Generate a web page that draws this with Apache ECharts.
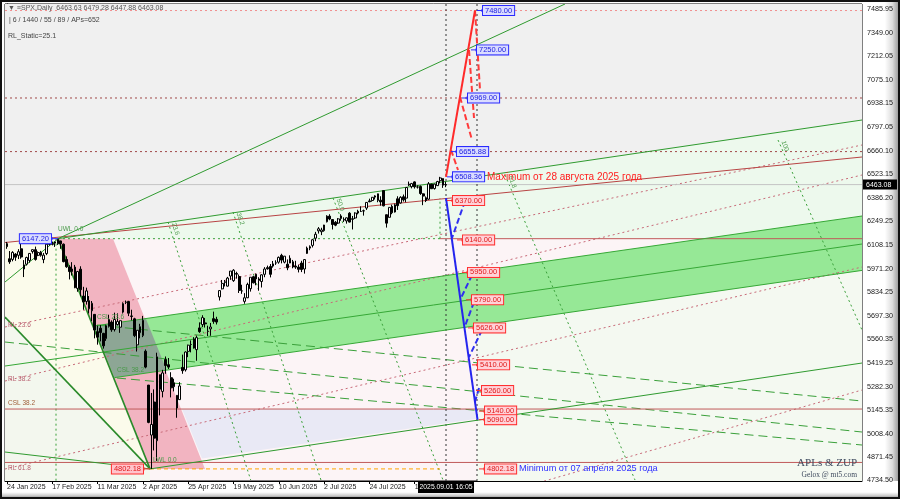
<!DOCTYPE html>
<html>
<head>
<meta charset="utf-8">
<script src="https://cdn.jsdelivr.net/npm/echarts@6.0.0/dist/echarts.min.js"></script>
<style>
html,body{margin:0;padding:0;background:#fff;overflow:hidden;}
#wrap{position:relative;width:900px;height:499px;}
#rg{position:absolute;left:862px;top:0;width:38px;height:499px;background:linear-gradient(to right,#ffffff 0%,#ffffff 60%,#dcdcdc 80%,#8a8a8a 100%);}
#bg{position:absolute;left:0;top:481px;width:900px;height:18px;background:linear-gradient(to bottom,#ffffff 0%,#ffffff 62%,#d0d0d0 80%,#7e7e7e 100%);}
#chart{position:absolute;left:0;top:0;width:900px;height:499px;}
#frame{position:absolute;left:0;top:0;width:900px;height:499px;box-sizing:border-box;border:2px solid #111;pointer-events:none;}
</style>
</head>
<body>
<div id="wrap"><div id="rg"></div><div id="bg"></div><div id="chart"></div><div id="frame"></div></div>
<script>
// ================= DATA =================
const yTickValues = [7485.95,7349.00,7212.05,7075.10,6938.15,6797.05,6660.10,6523.15,6386.20,6249.25,6108.15,5971.20,5834.25,5697.30,5560.35,5419.25,5282.30,5145.35,5008.40,4871.45,4734.50];
const xTickIndex = [0,16,32,48,64,80,96,112,128,144];
const xTickLabels = ['24 Jan 2025','17 Feb 2025','11 Mar 2025','2 Apr 2025','25 Apr 2025','19 May 2025','10 Jun 2025','2 Jul 2025','24 Jul 2025','15 Aug 2025'];

// daily bars, index 0 = 24 Jan 2025 ; [open, close, low, high]
const candles = [
[6118,6101,6088,6128],[6030,6012,6000,6075],[6026,6067,6015,6074],[6057,6039,6018,6063],[6050,6071,6028,6086],
[6088,6040,6030,6120],[5970,5994,5923,6022],[5998,6037,5990,6042],[6020,6061,6007,6062],[6072,6083,6060,6084],
[6083,6026,6019,6101],[6050,6066,6045,6073],[6050,6068,6042,6076],[6025,6051,6004,6064],[6060,6115,6051,6116],
[6115,6114,6107,6127],[6114,6120,6108,6130],[6121,6129,6099,6129],[6117,6144,6111,6147.2],[6134,6117,6088,6135],
[6115,6013,6009,6119],[6026,5983,5977,6044],[5982,5955,5909,5992],[5970,5956,5932,6010],[5981,5861,5858,5994],
[5857,5955,5837,5959],[5969,5849,5810,5986],[5812,5778,5732,5866],[5781,5842,5762,5861],[5785,5739,5711,5812],
[5726,5770,5666,5783],[5705,5614,5565,5705],[5604,5572,5528,5639],[5624,5599,5547,5642],[5594,5521,5505,5597],
[5563,5639,5550,5645],[5635,5675,5628,5703],[5660,5615,5603,5670],[5616,5675,5605,5715],[5646,5663,5640,5711],
[5630,5668,5597,5670],[5718,5768,5710,5775],[5775,5777,5765,5786],[5780,5712,5695,5783],[5696,5693,5670,5732],
[5679,5581,5572,5685],[5527,5612,5488,5613],[5598,5633,5565,5650],[5581,5671,5572,5696],[5490,5397,5390,5500],
[5292,5074,5069,5292],[5000,5062,4802.18,5246],[5193,4982,4910,5267],[4967,5457,4849,5481],[5353,5268,5115,5353],
[5255,5363,5220,5381],[5441,5406,5358,5459],[5411,5397,5386,5450],[5335,5276,5220,5367],[5305,5283,5255,5329],
[5232,5158,5101,5233],[5207,5287,5207,5309],[5395,5376,5358,5470],[5381,5485,5371,5489],[5489,5525,5455,5528],
[5529,5529,5483,5553],[5508,5561,5505,5572],[5499,5569,5434,5581],[5626,5604,5597,5658],[5645,5686,5631,5700],
[5655,5650,5628,5684],[5605,5607,5578,5639],[5620,5631,5580,5655],[5680,5664,5650,5721],[5676,5660,5646,5691],
[5807,5844,5786,5845],[5854,5886,5851,5906],[5895,5892,5868,5906],[5870,5917,5868,5924],[5929,5958,5907,5958],
[5902,5963,5895,5969],[5944,5940,5914,5954],[5926,5845,5830,5938],[5842,5842,5825,5878],[5781,5802,5767,5829],
[5802,5880,5800,5890],[5855,5922,5838,5922],[5925,5889,5886,5930],[5939,5912,5875,5943],[5903,5912,5843,5922],
[5897,5936,5862,5939],[5939,5970,5922,5981],[5978,5971,5966,5990],[5985,5939,5921,5999],[5987,6000,5978,6017],
[6005,6006,5994,6021],[6010,6038,6001,6043],[6050,6022,6003,6059],[6010,6045,6003,6045],[5998,5977,5963,6026],
[6005,6033,6004,6050],[6012,5982,5974,6023],[5987,5981,5971,6018],[5981,5968,5950,5995],[6005,5967,5952,6018],
[5970,6025,5943,6028],[6061,6092,6058,6101],[6100,6092,6080,6108],[6108,6141,6096,6146],[6150,6173,6132,6187],
[6193,6205,6177,6215],[6188,6198,6168,6211],[6194,6227,6188,6228],[6246,6279,6242,6284],[6279,6262,6255,6290],
[6259,6230,6201,6262],[6243,6226,6220,6250],[6238,6263,6233,6268],[6265,6280,6252,6290],[6256,6260,6245,6272],
[6251,6269,6235,6271],[6296,6244,6242,6302],[6260,6264,6201,6280],[6268,6297,6262,6301],[6307,6297,6289,6316],
[6306,6306,6303,6336],[6310,6309,6282,6317],[6326,6359,6315,6360],[6368,6363,6360,6381],[6370,6389,6363,6390],
[6397,6390,6376,6401],[6409,6371,6360,6410],[6372,6362,6340,6395],[6428,6339,6336,6428],[6287,6238,6212,6288],
[6272,6330,6270,6330],[6336,6299,6290,6346],[6303,6345,6300,6352],[6380,6340,6315,6395],[6356,6389,6352,6395],
[6392,6374,6364,6405],[6384,6446,6360,6446],[6460,6466,6455,6481],[6451,6469,6441,6473],[6479,6450,6440,6482],
[6449,6449,6440,6459],[6452,6411,6403,6458],[6409,6396,6343,6412],[6386,6370,6361,6394],[6378,6467,6374,6478],
[6466,6439,6438,6467],[6440,6466,6434,6468],[6457,6481,6455,6485],[6486,6502,6470,6508.36],[6498,6460,6444,6499],
[6463.63,6463.08,6447.88,6479.28]
];

const lastPrice = 6463.08;
const currentBar = 155.07;
const currentBarLabel = '2025.09.01 16:05';
const highPoint = [18.01, 6147.20];
const lowPoint = [50.51, 4802.18];

// projection targets: [bar index of anchor, price]
const upTargets = [[166.02,7480],[163.9,7250],[160.72,6969],[156.84,6655.88],[155.42,6508.36]];
const downTargets = [[155.42,6370],[158.96,6140],[160.72,5950],[162.13,5790],[162.84,5626],[164.25,5410],[165.67,5260],[166.73,5140],[166.73,5090],[166.73,4802.18]];

// shaded regions [bar index, price]
const regionGray   = [[-0.71,7518.1],[302.01,7518.1],[302.01,6840.4],[18.01,6147.2],[-0.71,6124.8]];
const regionLtGreen= [[18.01,6147.2],[302.01,6840.4],[302.01,6279.6],[250.09,6147.2]];
const regionCream  = [[-0.71,6124.8],[18.01,6147.2],[50.51,4802.18],[50.51,4731.6],[-0.71,4731.6]];
const regionLeftLow= [[-0.71,5689.6],[50.51,4802.18],[50.51,4731.6],[-0.71,4731.6]];
const regionRightLow=[[166.02,5639.3],[302.01,5961.8],[302.01,4731.6],[166.02,4731.6]];
const regionLavender=[[61.82,5152.1],[166.02,5152.1],[166.02,5095.4],[68.88,4862.9]];
const regionPink   = [[18.01,6147.2],[37.44,6147.2],[69.94,4802.18],[50.51,4802.18]];
const regionBand   = [[30.66,5637.0],[302.01,6279.6],[302.01,5961.8],[37.97,5335.5]];
const regionOverlap= [[30.66,5637.0],[49.03,5680.2],[56.34,5379.4],[37.97,5335.5]];

// trend / channel lines [[x1,p1],[x2,p2]]
const channelGreen = [
  [[18.01,6147.2],[302.01,6840.4]],
  [[18.01,6147.2],[197.1,7518.1]],
  [[-0.71,5894.1],[18.01,6147.2]],
  [[50.51,4802.18],[302.01,5420.8]],
  [[-0.71,4900.9],[50.51,4802.18]]
];
const channelGreenThick = [
  [[18.01,6147.2],[50.51,4802.18]],
  [[-0.71,5689.6],[50.51,4802.18]]
];
const bandLines = [
  [[30.66,5637.0],[302.01,6279.6]],
  [[37.97,5335.5],[302.01,5961.8]],
  [[-0.71,5403.3],[302.01,6116.0]]
];
const channelRed = [[[-0.71,6124.8],[302.01,6624.3]]];
const rlLines = [
  [[-0.71,5631.2],[302.01,6694.4]],
  [[-0.71,5315.6],[302.01,6519.1]],
  [[-0.71,4801.6],[302.01,5981.6]],
  [[181.21,4690.5],[302.01,5263.1]]
];
const cslLines = [
  [[31.79,5642.8],[302.01,5198.8]],
  [[38.86,5333.2],[302.01,4941.8]],
  [[-0.71,5543.5],[302.01,5017.7]]
];
const timeLines = [
  [[56.87,6244.5],[86.08,4737.3]],
  [[79.83,6302.9],[110.9,4737.3]],
  [[115.15,6384.7],[154.0,4737.3]],
  [[175.91,6519.1],[221.83,4737.3]],
  [[272.34,6723.6],[302.01,5613.6]]
];
const timeLineLabels = ['23.6','38.2','50.0','61.8','100'];
const greenDotted = [
  [[18.01,6147.2],[152.95,6147.2]],
  [[152.95,6147.2],[152.95,6384.7]],
  [[17.31,6147.2],[17.31,4731.6]]
];
const brownLevels = [
  [[152.95,6147.2],[302.01,6147.2]],
  [[-0.71,5152.0],[302.01,5152.0]],
  [[-0.71,4840.0],[302.01,4840.0]]
];
const dottedLevels = [7480, 6969, 6655.88];
const orangeLevel = [[50.51,4802.18],[152.95,4802.18]];
const verticalMarks = [155.07, 166.02];

const upZigSolid = [[155.07,6508.36],[165.31,7480]];
const upZigDash = [
  [[165.31,7480],[167.08,7015.7]],
  [[163.19,7249.4],[164.96,6852.1]],
  [[160.01,6974.8],[164.25,6723.6]],
  [[156.84,6665.2],[159.31,6548.3]]
];
const downZigSolid = [[155.07,6384.7],[166.2,5090]];
const downZigDash = [
  [[161.78,6367.2],[157.19,6151.0]],
  [[164.25,5934.9],[160.37,5800.6]],
  [[164.96,5777.2],[161.78,5637.0]],
  [[167.79,5613.6],[163.19,5455.8]],
  [[166.73,5274.8],[164.96,5175.5]]
];

const levelTexts = [
  {at:[18.01,6147.2], t:'UWL 0.0', k:'g', dx:0, dy:-9},
  {at:[-0.71,5631.2], t:'RL 23.6', k:'r', dx:3, dy:-2},
  {at:[-0.71,5315.6], t:'RL 38.2', k:'r', dx:3, dy:-2},
  {at:[-0.71,5187.2], t:'CSL 38.2', k:'b', dx:3, dy:0},
  {at:[-0.71,4801.6], t:'RL 61.8', k:'r', dx:3, dy:-1},
  {at:[50.51,4802.18], t:'LWL 0.0', k:'g', dx:3, dy:-9},
  {at:[31.79,5689.6], t:'CSL 23.6', k:'g', dx:0, dy:0},
  {at:[38.86,5380.0], t:'CSL 38.2', k:'g', dx:0, dy:0}
];

// ================= RENDER =================
const FONT = '"Liberation Sans", Arial, sans-serif';
const chart = echarts.init(document.getElementById('chart'), null, {renderer:'canvas'});

const LS = {
  g:{stroke:'#2f9a2f', w:1},
  gT:{stroke:'#2a8a2a', w:1.6},
  band:{stroke:'#36a836', w:1},
  r:{stroke:'#b84444', w:1},
  rDot:{stroke:'#c86a78', w:1, dash:[2,3]},
  gDash:{stroke:'#3aa03a', w:1, dash:[9,5]},
  gDot:{stroke:'#3aa03a', w:1, dash:[2,3]},
  hDot:{stroke:'#a04848', w:1, dash:[2,3]},
  pDot:{stroke:'#f09090', w:1, dash:[2,3]},
  kDot:{stroke:'#333333', w:1, dash:[2,3]},
  brown:{stroke:'#c05a5a', w:1},
  org:{stroke:'#ffa500', w:1, dash:[4,3]},
  cur:{stroke:'#c4c4c4', w:1},
  zr:{stroke:'#ff2a2a', w:2},
  zrD:{stroke:'#ff3a3a', w:2, dash:[6,3]},
  zb:{stroke:'#2424ee', w:2},
  zbD:{stroke:'#3030f0', w:2, dash:[6,3]}
};
const lines = [];
const add = (arr, s) => arr.forEach(p => lines.push({p, s}));
add(greenDotted,'gDot');
add(timeLines,'gDot');
add(rlLines,'rDot');
add(cslLines,'gDash');
add(dottedLevels.slice(0,1).map(v=>[[-0.71,v],[302.01,v]]),'pDot');
add(dottedLevels.slice(1).map(v=>[[-0.71,v],[302.01,v]]),'hDot');
add([[[-0.71,lastPrice],[302.01,lastPrice]]],'cur');
add(brownLevels,'brown');
add([orangeLevel],'org');
add(verticalMarks.map(x=>[[x,7518.1],[x,4731.6]]),'kDot');
add(bandLines,'band');
add(channelRed,'r');
add(channelGreen,'g');
add(channelGreenThick,'gT');

const zig = [];
const addZ = (arr, s) => arr.forEach(p => zig.push({p, s}));
addZ(upZigDash,'zrD'); addZ([upZigSolid],'zr');
addZ(downZigDash,'zbD'); addZ([downZigSolid],'zb');

const polys = [
  {pts:regionGray, fill:'#f0f0f0'},
  {pts:regionLtGreen, fill:'#edf9ed'},
  {pts:regionCream, fill:'#fbfbeb'},
  {pts:regionLeftLow, fill:'#f3f7ee'},
  {pts:regionRightLow, fill:'#f4f9f1'},
  {pts:regionLavender, fill:'#e9e9f5'},
  {pts:regionPink, fill:'#f2b4c1'},
  {pts:regionBand, fill:'#96e896'},
  {pts:regionOverlap, fill:'#8da695'}
];

function lineSeries(list, z){
  return {type:'custom', coordinateSystem:'cartesian2d', clip:true, silent:true, z:z, animation:false,
    data:list.map(o=>o.p[0]),
    renderItem:(params, api)=>{
      const o=list[params.dataIndex]; const a=api.coord(o.p[0]); const b=api.coord(o.p[1]); const st=LS[o.s];
      return {type:'line', shape:{x1:a[0],y1:a[1],x2:b[0],y2:b[1]}, style:{stroke:st.stroke, lineWidth:st.w, lineDash:st.dash||null, fill:null}};
    }};
}

const boxFont = '7.5px "Liberation Sans", Arial, sans-serif';
const labels = [];
upTargets.forEach(t=>labels.push({x:t[0], v:t[1], c:'#2a2aff', tc:'#1a1ae0', bg:'#dadcff', left:false}));
downTargets.forEach(t=>labels.push({x:t[0], v:t[1], c:'#ff3030', tc:'#e01818', bg:'#ffd2d8', left:false}));
labels.push({x:highPoint[0], v:highPoint[1], c:'#2a2aff', tc:'#1a1ae0', bg:'#dadcff', left:true});
labels.push({x:lowPoint[0], v:lowPoint[1], c:'#ff3030', tc:'#e01818', bg:'#ffc4cc', left:true});

const notes = [
  {at:[155.42,6508.36], t:'Maximum от 28 августа 2025 года', fill:'#ff2020', size:10},
  {at:[166.73,4802.18], t:'Minimum от 07 апреля 2025 года', fill:'#3030ff', size:9.2}
];
const lblColors = {g:'#4a9a4a', r:'#b86070', b:'#a0603a'};

const option = {
  animation:false,
  backgroundColor:'transparent',
  textStyle:{fontFamily:FONT},
  grid:{left:5, right:38, top:4, bottom:18, show:true, backgroundColor:'#fcf4f6', borderColor:'#000', borderWidth:1},
  xAxis:{type:'value', min:-0.71, max:302.01,
    axisLine:{show:true, lineStyle:{color:'#000'}},
    axisTick:{show:true, customValues:xTickIndex, length:3, lineStyle:{color:'#000'}},
    axisLabel:{customValues:xTickIndex, formatter:(v)=>{const k=xTickIndex.indexOf(Math.round(v)); return k>=0?xTickLabels[k]:'';}, align:'left', margin:3, fontSize:7, fontFamily:FONT, color:'#1a1a1a'},
    splitLine:{show:false}},
  yAxis:{type:'value', position:'right', min:4731.6, max:7518.1,
    axisLine:{show:true, lineStyle:{color:'#000'}},
    axisTick:{show:true, customValues:yTickValues, length:3, lineStyle:{color:'#000'}},
    axisLabel:{customValues:yTickValues, formatter:v=>v.toFixed(2), margin:5, fontSize:7.2, fontFamily:FONT, color:'#1a1a1a'},
    splitLine:{show:false}},
  graphic:[
    {type:'text', left:8, top:5, z:100, style:{text:'▼ ≡SPX,Daily  6463.63 6479.28 6447.88 6463.08', fill:'#555', font:'7px "Liberation Sans", Arial'}},
    {type:'text', left:9, top:17, z:100, style:{text:'| 6 / 1440 / 55 / 89 / APs=652', fill:'#444', font:'7px "Liberation Sans", Arial'}},
    {type:'text', left:8, top:33, z:100, style:{text:'RL_Static=25.1', fill:'#444', font:'7px "Liberation Sans", Arial'}},
    {type:'text', right:43, top:458, z:100, style:{text:'APLs & ZUP', fill:'#3e4a5e', font:'11px "Liberation Serif", "DejaVu Serif", serif'}},
    {type:'text', right:43, top:471, z:100, style:{text:'Gelox @ mt5.com', fill:'#3e4a5e', font:'7.5px "Liberation Serif", "DejaVu Serif", serif'}}
  ],
  series:[
    {type:'custom', coordinateSystem:'cartesian2d', clip:true, silent:true, z:1, animation:false,
      data:polys.map(o=>o.pts[0]),
      renderItem:(params, api)=>{const o=polys[params.dataIndex]; return {type:'polygon', shape:{points:o.pts.map(p=>api.coord(p))}, style:{fill:o.fill}};}},
    lineSeries(lines, 2),
    {type:'candlestick', z:3, animation:false, silent:true,
      data:candles.map((c,i)=>[i,c[0],c[1],c[2],c[3]]),
      encode:{x:0, y:[1,2,3,4]}, barWidth:2.2,
      itemStyle:{color:'#ffffff', color0:'#000000', borderColor:'#000000', borderColor0:'#000000', borderWidth:1}},
    lineSeries(zig, 4),
    {type:'custom', coordinateSystem:'cartesian2d', clip:true, silent:true, z:5, animation:false,
      data:levelTexts.map(o=>o.at).concat(timeLines.map(l=>l[0])),
      renderItem:(params, api)=>{
        const i=params.dataIndex;
        if(i<levelTexts.length){const o=levelTexts[i]; const a=api.coord(o.at);
          return {type:'text', x:a[0]+o.dx, y:a[1]+o.dy, style:{text:o.t, fill:lblColors[o.k], font:'6.5px "Liberation Sans", Arial', align:'left', verticalAlign:'middle'}};}
        const k=i-levelTexts.length; const l=timeLines[k]; const a=api.coord(l[0]);
        return {type:'text', x:a[0]+2, y:a[1]+2, rotation:-1.25, style:{text:timeLineLabels[k], fill:'#4a9a4a', font:'6.5px "Liberation Sans", Arial', align:'left', verticalAlign:'bottom'}};
      }},
    {type:'custom', coordinateSystem:'cartesian2d', clip:false, silent:true, z:6, animation:false,
      data:labels.map(o=>[o.x,o.v]),
      renderItem:(params, api)=>{
        const o=labels[params.dataIndex]; const a=api.coord([o.x,o.v]);
        const ex = o.left ? a[0]-7 : a[0]+6;
        return {type:'group', children:[
          {type:'line', shape:{x1:a[0],y1:a[1],x2:ex,y2:a[1]}, style:{stroke:o.c, lineWidth:1}},
          {type:'rect', shape:{x:ex-1.5, y:a[1]-1.5, width:3, height:3}, style:{fill:o.c}},
          {type:'text', x:ex, y:a[1], style:{text:o.v.toFixed(2), fill:o.tc, backgroundColor:o.bg, borderColor:o.c, borderWidth:1, padding:[1,2,0,2], font:boxFont, align:o.left?'right':'left', verticalAlign:'middle'}}
        ]};
      }},
    {type:'custom', coordinateSystem:'cartesian2d', clip:false, silent:true, z:6, animation:false,
      data:notes.map(o=>o.at),
      renderItem:(params, api)=>{const o=notes[params.dataIndex]; const a=api.coord(o.at);
        return {type:'text', x:a[0]+40, y:a[1], style:{text:o.t, fill:o.fill, font:o.size+'px "Liberation Sans", Arial', align:'left', verticalAlign:'middle'}};}},
    {type:'custom', coordinateSystem:'cartesian2d', clip:false, silent:true, z:7, animation:false,
      data:[[302.01,lastPrice],[currentBar,4731.6]],
      renderItem:(params, api)=>{
        const a=api.coord([api.value(0),api.value(1)]);
        if(params.dataIndex===0){
          return {type:'group', children:[
            {type:'rect', shape:{x:a[0]+1, y:a[1]-5, width:34, height:10}, style:{fill:'#000'}},
            {type:'text', x:a[0]+4, y:a[1], style:{text:lastPrice.toFixed(2), fill:'#fff', font:'7px "Liberation Sans", Arial', verticalAlign:'middle'}}]};
        }
        return {type:'group', children:[
          {type:'rect', shape:{x:a[0]-28, y:a[1]+1, width:56, height:11}, style:{fill:'#000'}},
          {type:'text', x:a[0], y:a[1]+6.5, style:{text:currentBarLabel, fill:'#fff', font:'6.8px "Liberation Sans", Arial', align:'center', verticalAlign:'middle'}}]};
      }}
  ]
};
chart.setOption(option);
</script>
</body>
</html>
